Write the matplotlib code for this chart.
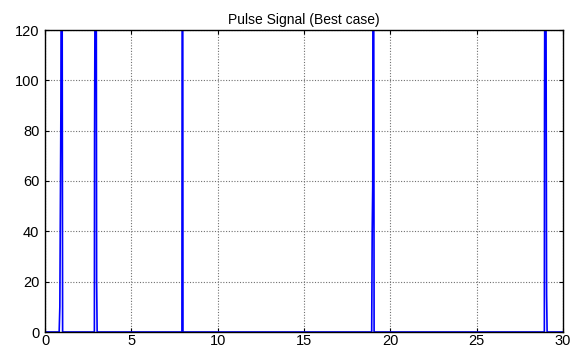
import matplotlib
matplotlib.use('Agg')
import matplotlib.pyplot as plt

# pulse signal (peaks run past the top of the axes)
time = [0, 0.82, 0.86, 0.92, 0.97, 1.02,
        2.86, 2.87, 2.95, 2.99, 3.02,
        7.93, 7.94, 7.97, 7.99,
        18.92, 18.95, 18.98, 19.02, 19.06,
        28.92, 28.93, 28.98, 29.05, 29.08, 30]
signal = [0, 0, 10, 88, 250, 0,
          0, 76, 250, 20, 0,
          0, 100, 250, 0,
          0, 40, 58, 250, 0,
          0, 89, 250, 15, 0, 0]

x_ticks = [0, 5, 10, 15, 20, 25, 30]
y_ticks = [0, 20, 40, 60, 80, 100, 120]

plt.rcParams['font.family'] = ['Liberation Sans', 'DejaVu Sans']

fig = plt.figure(figsize=(5.72, 3.49), dpi=100)
ax = fig.add_axes([45 / 572, 17 / 349, 518 / 572, 302 / 349])
ax.plot(time, signal, color='#0000ff', linewidth=1.2)
ax.set_xlim(0, 30)
ax.set_ylim(0, 120)
ax.set_xticks(x_ticks)
ax.set_yticks(y_ticks)
ax.grid(True, linestyle=(0, (1, 1.5)), color='#707070', linewidth=0.8)
ax.tick_params(direction='in', top=True, right=True, length=3, labelsize=10.5)
ax.tick_params(axis='x', pad=1.5)
ax.tick_params(axis='y', pad=4)
for s in ax.spines.values():
    s.set_linewidth(1.0)
ax.set_title('Pulse Signal (Best case)', fontsize=10, pad=4)

fig.savefig('out.png', dpi=100)
